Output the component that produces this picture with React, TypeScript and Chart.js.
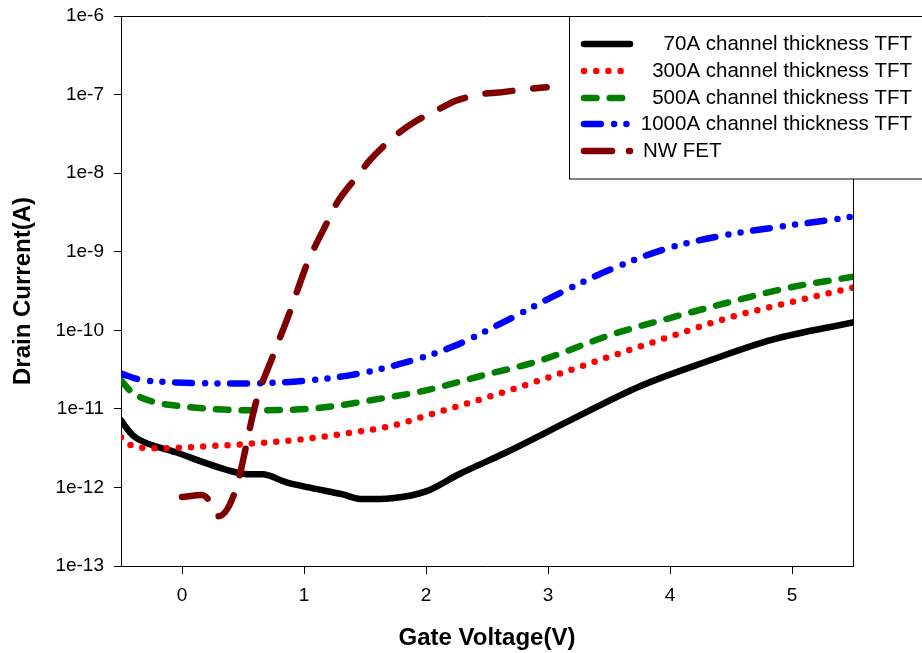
import { useEffect, useRef } from "react";
import { Chart, registerables } from "chart.js";

Chart.register(...registerables);

// Transfer curves: gate voltage (V) vs drain current (A)
const vg70 = [-0.5, -0.43, -0.38, -0.05, 0.44, 0.55, 0.66, 0.85, 1.04, 1.31, 1.48, 1.72, 2.0, 2.27, 2.66, 3.2, 3.75, 4.3, 4.84, 5.5];
const id70 = [7.1e-12, 5.1e-12, 4.3e-12, 2.8e-12, 1.56e-12, 1.47e-12, 1.47e-12, 1.17e-12, 1.0e-12, 8.2e-13, 7.1e-13, 7.3e-13, 8.9e-13, 1.47e-12, 2.8e-12, 7.4e-12, 1.93e-11, 4.0e-11, 7.6e-11, 1.26e-10];

const vg300 = [-0.5, -0.39, -0.19, 0, 0.3, 0.61, 0.985, 1.4, 1.7, 2.09, 2.5, 3.0, 3.51, 4.0, 4.49, 5.0, 5.5];
const id300 = [4.35e-12, 3.3e-12, 3.15e-12, 3.2e-12, 3.4e-12, 3.65e-12, 4.1e-12, 5.0e-12, 6.0e-12, 9.0e-12, 1.4e-11, 2.5e-11, 4.65e-11, 8.3e-11, 1.46e-10, 2.3e-10, 3.5e-10];

const vg500 = [-0.5, -0.41, -0.25, -0.05, 0.55, 1.04, 1.64, 2.0, 2.44, 2.93, 3.53, 4.02, 4.57, 4.98, 5.5];
const id500 = [2.3e-11, 1.62e-11, 1.25e-11, 1.1e-11, 9.6e-12, 1.0e-11, 1.36e-11, 1.72e-11, 2.6e-11, 4.1e-11, 8.9e-11, 1.46e-10, 2.46e-10, 3.5e-10, 4.8e-10];

const vg1000 = [-0.5, -0.35, -0.05, 0.44, 0.94, 1.37, 1.78, 2.22, 2.66, 3.12, 3.53, 4.0, 4.43, 4.9, 5.39, 5.5];
const id1000 = [2.8e-11, 2.37e-11, 2.17e-11, 2.1e-11, 2.23e-11, 2.67e-11, 3.7e-11, 6.2e-11, 1.33e-10, 3.1e-10, 6.1e-10, 1.13e-9, 1.6e-9, 2.08e-9, 2.63e-9, 2.8e-9];

const vgNW = [0, 0.164, 0.23, 0.3, 0.434, 0.612, 0.748, 0.885, 1.022, 1.199, 1.268, 1.445, 1.541, 1.773, 1.896, 2.129, 2.238, 2.47, 2.593, 2.839, 2.989];
const idNW = [7.55e-13, 8.0e-13, 6.6e-13, 4.3e-13, 8.8e-13, 1.3e-11, 4.84e-11, 1.73e-10, 6.78e-10, 2.53e-9, 4.13e-9, 9.47e-9, 1.47e-8, 3.21e-8, 4.39e-8, 6.81e-8, 8.28e-8, 1.02e-7, 1.06e-7, 1.18e-7, 1.24e-7];

const seriesNames = [
  "70A channel thickness TFT",
  "300A channel thickness TFT",
  "500A channel thickness TFT",
  "1000A channel thickness TFT",
  "NW FET",
];

const xTickValues = [0, 1, 2, 3, 4, 5];
const yTickValues = [1e-13, 1e-12, 1e-11, 1e-10, 1e-9, 1e-8, 1e-7, 1e-6];

const FONT = "Arial, 'Liberation Sans', sans-serif";
const LW = 6.5;

type Style = { color: string; dash: number[]; legendDash: number[] };
const styles: Style[] = [
  { color: "#000000", dash: [], legendDash: [] },
  { color: "#ff0000", dash: [0, 12.2], legendDash: [0, 12.2] },
  { color: "#008000", dash: [12.5, 13.2], legendDash: [12.5, 13.2] },
  { color: "#0000ff", dash: [16.8, 13.3, 0, 12.3, 0, 12.7], legendDash: [16.8, 13.3, 0, 12.3, 0, 12.7] },
  { color: "#800000", dash: [27, 21], legendDash: [28, 17] },
];

const toPoints = (xs: number[], ys: number[]) => xs.map((x, i) => ({ x, y: ys[i] }));

const frameAndLegend = {
  id: "frameAndLegend",
  afterDraw(chart: any) {
    const ctx: CanvasRenderingContext2D = chart.ctx;
    const a = chart.chartArea;
    ctx.save();
    // top and right edges of the plot frame
    ctx.strokeStyle = "#000";
    ctx.lineWidth = 1;
    ctx.setLineDash([]);
    ctx.beginPath();
    ctx.moveTo(Math.round(a.left) + 0.5, Math.round(a.top) + 0.5);
    ctx.lineTo(Math.round(a.right) + 0.5, Math.round(a.top) + 0.5);
    ctx.lineTo(Math.round(a.right) + 0.5, Math.round(a.bottom) + 0.5);
    ctx.stroke();

    // legend box
    const bx = 569.5, by = 16.5, bw = 400, bh = 162.5;
    ctx.fillStyle = "#fff";
    ctx.fillRect(bx, by, bw, bh);
    ctx.strokeRect(bx, by, bw, bh);

    const rows = [44, 71, 98, 124, 151];
    ctx.font = `20.5px ${FONT}`;
    ctx.textBaseline = "middle";
    seriesNames.forEach((name, i) => {
      const st = styles[i];
      const y = rows[i];
      ctx.strokeStyle = st.color;
      ctx.lineWidth = LW;
      ctx.lineCap = "round";
      ctx.setLineDash(st.legendDash);
      ctx.beginPath();
      ctx.moveTo(584, y);
      ctx.lineTo(630, y);
      ctx.stroke();
      ctx.setLineDash([]);
      ctx.fillStyle = "#000";
      if (i < 4) {
        ctx.textAlign = "right";
        ctx.fillText(name, 912, y);
      } else {
        ctx.textAlign = "left";
        ctx.fillText(name, 643, y);
      }
    });
    ctx.restore();
  },
};

export default function App() {
  const ref = useRef<HTMLCanvasElement>(null);

  useEffect(() => {
    const canvas = ref.current;
    if (!canvas) return;
    const seriesX = [vg70, vg300, vg500, vg1000, vgNW];
    const seriesY = [id70, id300, id500, id1000, idNW];
    const orders = [4, 3, 2, 1, 0];

    const chart = new Chart(canvas, {
      type: "line",
      data: {
        datasets: seriesNames.map((name, i) => ({
          label: name,
          data: toPoints(seriesX[i], seriesY[i]),
          borderColor: styles[i].color,
          backgroundColor: styles[i].color,
          borderWidth: LW,
          borderDash: styles[i].dash,
          borderCapStyle: "round" as const,
          borderJoinStyle: "round" as const,
          cubicInterpolationMode: "monotone" as const,
          pointRadius: 0,
          fill: false,
          order: orders[i],
        })),
      },
      options: {
        responsive: false,
        animation: false,
        devicePixelRatio: 1,
        layout: { padding: { left: 0, top: 16, right: 69, bottom: 0 } },
        plugins: {
          legend: { display: false },
          tooltip: { enabled: false },
        },
        scales: {
          x: {
            type: "linear",
            min: -0.5,
            max: 5.5,
            afterBuildTicks: (s: any) => {
              s.ticks = xTickValues.map((v) => ({ value: v }));
            },
            afterFit: (s: any) => {
              s.height = 87;
              s.paddingLeft = 0;
              s.paddingRight = 0;
            },
            grid: { drawOnChartArea: false, drawTicks: true, tickLength: 8, color: "#000", lineWidth: 1 },
            border: { display: true, color: "#000", width: 1 },
            ticks: {
              color: "#000",
              font: { family: FONT, size: 19 },
              padding: 10,
              autoSkip: false,
              maxRotation: 0,
              callback: (v: any) => String(v),
            },
            title: {
              display: true,
              text: "Gate Voltage(V)",
              color: "#000",
              font: { family: FONT, size: 24, weight: "bold" },
              padding: { top: 0, bottom: 0 },
            },
          },
          y: {
            type: "logarithmic",
            min: 1e-13,
            max: 1e-6,
            afterBuildTicks: (s: any) => {
              s.ticks = yTickValues.map((v) => ({ value: v }));
            },
            afterFit: (s: any) => {
              s.width = 121;
              s.paddingTop = 0;
              s.paddingBottom = 0;
            },
            grid: { drawOnChartArea: false, drawTicks: true, tickLength: 7, color: "#000", lineWidth: 1 },
            border: { display: true, color: "#000", width: 1 },
            ticks: {
              color: "#000",
              font: { family: FONT, size: 19 },
              padding: 10,
              autoSkip: false,
              callback: (v: any) => `1e${Math.round(Math.log10(Number(v)))}`,
            },
            title: {
              display: true,
              text: "Drain Current(A)",
              color: "#000",
              font: { family: FONT, size: 24, weight: "bold" },
              padding: { top: 9, bottom: 0 },
            },
          },
        },
      } as any,
      plugins: [frameAndLegend],
    });
    return () => chart.destroy();
  }, []);

  return (
    <div style={{ position: "absolute", left: 0, top: 0, width: 922, height: 653, background: "#fff" }}>
      <canvas ref={ref} width={922} height={653} style={{ display: "block", width: 922, height: 653 }} />
    </div>
  );
}
